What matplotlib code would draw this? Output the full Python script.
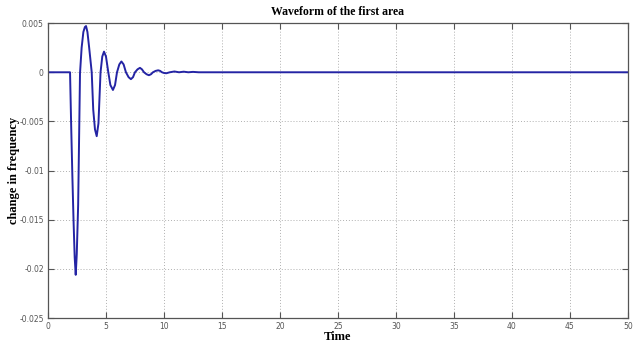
import numpy as np
import matplotlib.pyplot as plt

# frequency deviation of area 1
time = [0, 1.9, 2.0, 2.1, 2.2, 2.3, 2.39, 2.48, 2.6, 2.76, 2.9, 3.05, 3.18, 3.28, 3.4, 3.55, 3.77,
        3.9, 4.05, 4.2, 4.35, 4.53, 4.68, 4.83, 5.0, 5.2, 5.38, 5.6, 5.78, 5.95, 6.15, 6.33,
        6.52, 6.72, 6.95, 7.15, 7.33, 7.5, 7.72, 7.93, 8.1, 8.28, 8.5, 8.7, 8.88, 9.05, 9.28,
        9.5, 9.67, 9.83, 10.0, 10.2, 10.5, 10.9, 11.3, 11.7, 12.1, 12.5, 13.0, 50]
freq = [0, 0, -0.0055, -0.0105, -0.015, -0.0188, -0.0206, -0.0185, -0.0135, -0.0001, 0.0025,
        0.0041, 0.0046, 0.0047, 0.0041, 0.0025, 0.0, -0.0038, -0.0058, -0.0065, -0.0052, 0.0,
        0.0016, 0.0021, 0.0016, 0.0, -0.0013, -0.0018, -0.0013, 0.0, 0.0008, 0.0011, 0.0008,
        0.0, -0.0005, -0.0007, -0.0005, 0.0, 0.0003, 0.00045, 0.0003, 0.0, -0.0002, -0.0003,
        -0.0002, 0.0, 0.00014, 0.0002, 0.00014, 0.0, -0.00007, -0.0001, 0.0, 0.00008, 0.0,
        0.00006, 0.0, 0.00004, 0.0, 0.0]

xticks = [0, 5, 10, 15, 20, 25, 30, 35, 40, 45, 50]
yticks = [-0.025, -0.02, -0.015, -0.01, -0.005, 0, 0.005]
ylabels = ['-0.025', '-0.02', '-0.015', '-0.01', '-0.005', '0', '0.005']

fig = plt.figure(figsize=(6.4, 3.45), dpi=100)
ax = fig.add_axes([0.075, 0.078, 0.906, 0.855])

ax.plot(time, freq, color='#2424a4', lw=1.4)

ax.set_xlim(0, 50)
ax.set_ylim(-0.025, 0.005)
ax.set_xticks(xticks)
ax.set_xticklabels([str(t) for t in xticks])
ax.set_yticks(yticks)
ax.set_yticklabels(ylabels)
ax.tick_params(direction='in', length=4, labelsize=5.5, colors='#555555',
               top=True, right=True, pad=3)
for s in ax.spines.values():
    s.set_color('#555555')
    s.set_linewidth(0.9)
ax.grid(True, linestyle=(0, (1, 2)), color='#b0b0b0', linewidth=0.7)

serif = ['Liberation Serif', 'DejaVu Serif']
ax.set_title('Waveform of the first area', fontsize=8.5, fontweight='bold',
             family=serif, pad=6)
ax.set_xlabel('Time', fontsize=9, fontweight='bold', family=serif, labelpad=0)
ax.set_ylabel('change in frequency', fontsize=9, fontweight='bold', family=serif)
ax.yaxis.set_label_coords(-0.048, 0.5)

fig.savefig('out.png', dpi=100)
